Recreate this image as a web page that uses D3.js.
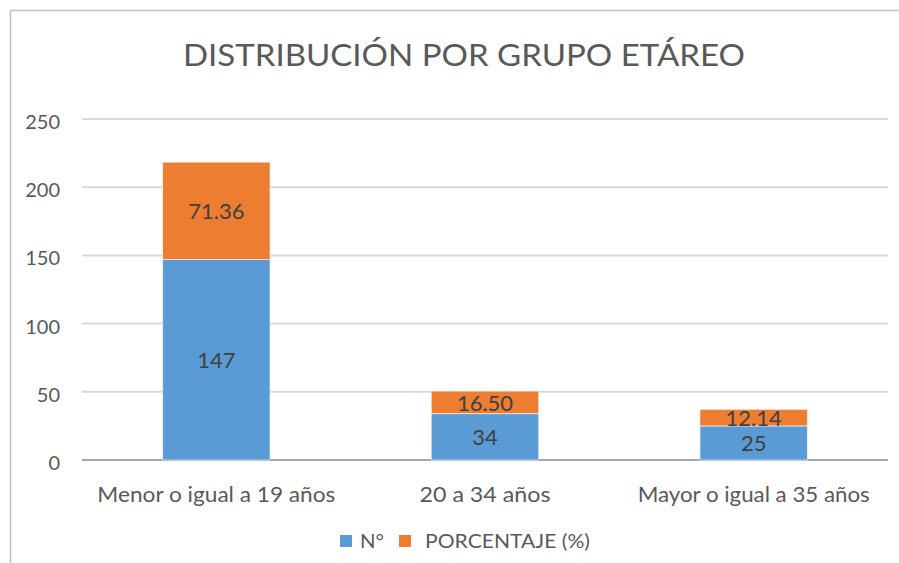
<!DOCTYPE html>
<html>
<head>
<meta charset="utf-8">
<script src="https://cdn.jsdelivr.net/npm/d3@7"></script>
<style>
  body { margin: 0; background: #fff; }
  text { font-family: Lato, "Open Sans", sans-serif; }
</style>
</head>
<body>
<div id="chart"></div>
<script>
// data
const categories = ["Menor o igual a 19 años", "20 a 34 años", "Mayor o igual a 35 años"];
const numero = [147, 34, 25];
const porcentaje = [71.36, 16.50, 12.14];
const porcentajeLabels = ["71.36", "16.50", "12.14"];
const seriesNames = ["N°", "PORCENTAJE (%)"];
const yTicks = [0, 50, 100, 150, 200, 250];

const width = 899, height = 563;
const colors = ["#5b9bd5", "#ed7d31"];

const svg = d3.select("#chart")
  .append("svg")
  .attr("width", width)
  .attr("height", height);

// outer frame (only top and left edges visible)
svg.append("rect")
  .attr("x", 10.5).attr("y", 10.5)
  .attr("width", 1000).attr("height", 1000)
  .attr("fill", "none")
  .attr("stroke", "#bfbfbf")
  .attr("stroke-width", 1.5);

const margin = { left: 82, right: 11, top: 119, bottom: 103 };

const xScale = d3.scaleBand()
  .domain(categories)
  .range([margin.left, width - margin.right])
  .paddingInner(0.6)
  .paddingOuter(0.3);

const yScale = d3.scaleLinear()
  .domain([0, 250])
  .range([height - margin.bottom, margin.top]);

// title
svg.append("text")
  .attr("x", 464)
  .attr("y", 66)
  .attr("text-anchor", "middle")
  .attr("font-size", 31)
  .attr("fill", "#595959")
  .attr("textLength", 562)
  .attr("lengthAdjust", "spacingAndGlyphs")
  .text("DISTRIBUCIÓN POR GRUPO ETÁREO");

// gridlines
svg.append("g")
  .selectAll("line")
  .data(yTicks)
  .join("line")
  .attr("x1", margin.left)
  .attr("x2", width - margin.right)
  .attr("y1", d => yScale(d))
  .attr("y2", d => yScale(d))
  .attr("stroke", d => d === 0 ? "#a6a6a6" : "#d9d9d9")
  .attr("stroke-width", 2);

// y axis labels
const yAxis = d3.axisLeft(yScale).tickValues(yTicks).tickSize(0).tickPadding(0);
svg.append("g")
  .attr("transform", `translate(${60},3)`)
  .call(yAxis)
  .call(g => g.select(".domain").remove())
  .selectAll("text")
  .attr("font-size", 20)
  .attr("fill", "#595959")
  .attr("font-family", "Lato, sans-serif");

// x axis labels
const xAxis = d3.axisBottom(xScale).tickSize(0).tickPadding(0);
svg.append("g")
  .attr("transform", `translate(0,${height - margin.bottom + 27})`)
  .call(xAxis)
  .call(g => g.select(".domain").remove())
  .selectAll("text")
  .attr("font-size", 21)
  .attr("fill", "#595959")
  .attr("font-family", "Lato, sans-serif")
  .attr("textLength", (d, i) => [238, 131, 232][i])
  .attr("lengthAdjust", "spacingAndGlyphs");

// stack
const rows = categories.map((c, i) => ({ cat: c, n: numero[i], p: porcentaje[i], pl: porcentajeLabels[i], nl: String(numero[i]) }));
const stack = d3.stack().keys(["n", "p"]);
const stacked = stack(rows);

const groups = svg.append("g")
  .selectAll("g")
  .data(stacked)
  .join("g")
  .attr("fill", (d, i) => colors[i]);

groups.selectAll("rect")
  .data(d => d)
  .join("rect")
  .attr("x", d => xScale(d.data.cat))
  .attr("y", d => yScale(d[1]))
  .attr("width", xScale.bandwidth())
  .attr("height", d => yScale(d[0]) - yScale(d[1]))
  .attr("stroke", "#ffffff")
  .attr("stroke-opacity", 0.6)
  .attr("stroke-width", 1);

// value labels
groups.selectAll("text")
  .data((d, i) => d.map(v => ({ v, key: d.key })))
  .join("text")
  .attr("x", d => xScale(d.v.data.cat) + xScale.bandwidth() / 2)
  .attr("y", d => (yScale(d.v[0]) + yScale(d.v[1])) / 2)
  .attr("dy", "0.38em")
  .attr("text-anchor", "middle")
  .attr("font-size", 22)
  .attr("fill", "#404040")
  .text(d => d.key === "n" ? d.v.data.nl : d.v.data.pl);

// legend
const legend = svg.append("g");
const legendItems = [
  { name: seriesNames[0], x: 340 },
  { name: seriesNames[1], x: 399 }
];
legendItems.forEach((item, i) => {
  legend.append("rect")
    .attr("x", item.x)
    .attr("y", 535)
    .attr("width", 12)
    .attr("height", 12)
    .attr("fill", colors[i]);
  legend.append("text")
    .attr("x", item.x + (i === 0 ? 20 : 26))
    .attr("y", 548)
    .attr("font-size", 20)
    .attr("fill", "#595959")
    .attr("textLength", i === 0 ? 24 : 165)
    .attr("lengthAdjust", "spacingAndGlyphs")
    .text(item.name);
});
</script>
</body>
</html>
